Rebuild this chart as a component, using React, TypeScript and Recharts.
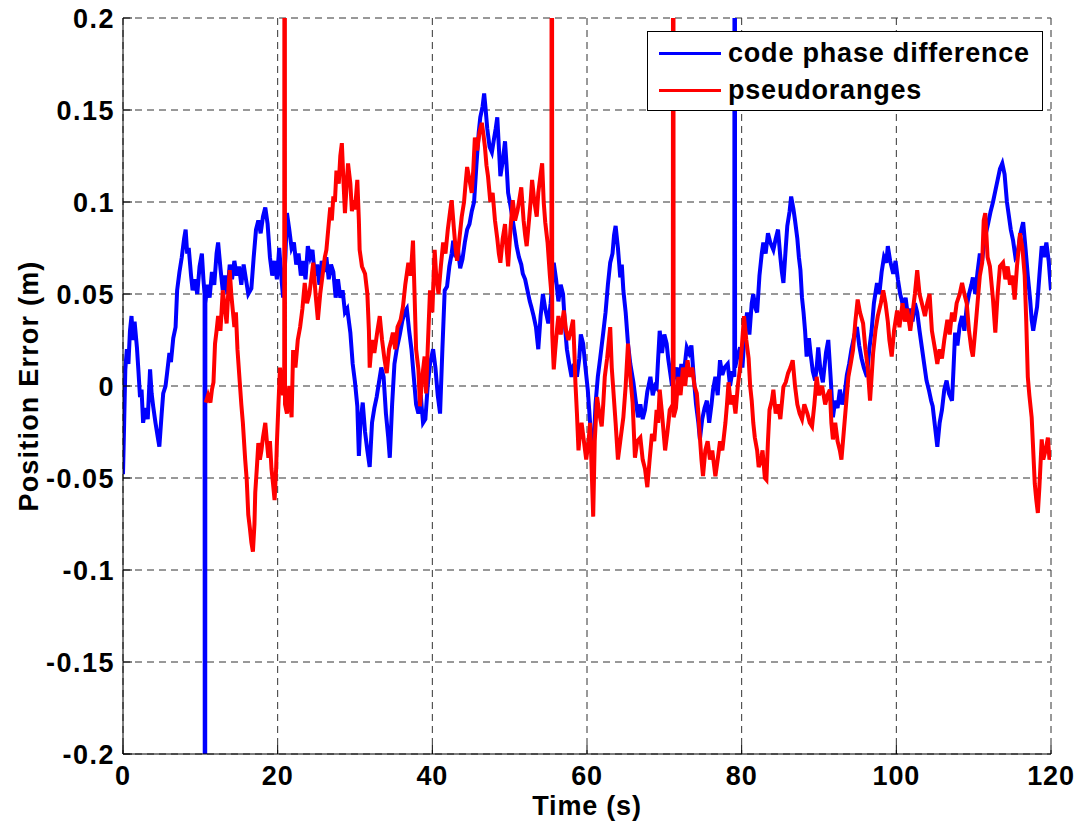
import React from 'react';
import { LineChart, Line, XAxis, YAxis, CartesianGrid, Legend } from 'recharts';

// [time (s), position error (m)]
const codePhaseDifference: [number, number][] = [
  [0.0, -0.048], [0.15, -0.02], [0.3, 0.009], [0.5, 0.02], [0.7, 0.012], [0.9, 0.03], [1.1, 0.038], [1.3, 0.025],
  [1.5, 0.035], [1.8, 0.021], [2.0, 0.008], [2.2, -0.006], [2.4, -0.002], [2.6, -0.02], [2.9, -0.012], [3.2, -0.018],
  [3.5, 0.009], [3.7, -0.004], [3.9, -0.011], [4.2, -0.02], [4.5, -0.028], [4.7, -0.033], [5.0, -0.015], [5.2, -0.004],
  [5.5, 0.0], [5.7, 0.007], [6.0, 0.018], [6.2, 0.013], [6.5, 0.026], [6.8, 0.032], [7.0, 0.052], [7.3, 0.062],
  [7.6, 0.07], [7.9, 0.08], [8.1, 0.085], [8.3, 0.072], [8.5, 0.075], [8.8, 0.06], [9.0, 0.052], [9.3, 0.058],
  [9.6, 0.05], [9.9, 0.065], [10.2, 0.072], [10.4, 0.058], [10.55, 0.05], [10.6, -0.6], [10.65, 0.045], [10.9, 0.055],
  [11.2, 0.048], [11.5, 0.062], [11.8, 0.055], [12.1, 0.072], [12.3, 0.078], [12.6, 0.064], [12.9, 0.052], [13.2, 0.06],
  [13.5, 0.05], [13.8, 0.066], [14.1, 0.058], [14.4, 0.068], [14.7, 0.06], [15.0, 0.065], [15.3, 0.055], [15.6, 0.066],
  [15.9, 0.058], [16.2, 0.05], [16.6, 0.053], [16.9, 0.07], [17.2, 0.085], [17.5, 0.09], [17.8, 0.083], [18.1, 0.092],
  [18.4, 0.097], [18.7, 0.088], [19.0, 0.07], [19.3, 0.06], [19.6, 0.068], [19.9, 0.058], [20.2, 0.075], [20.5, 0.058],
  [20.7, 0.048], [21.0, 0.07], [21.2, 0.094], [21.5, 0.085], [21.8, 0.075], [22.1, 0.078], [22.4, 0.066], [22.7, 0.072],
  [23.0, 0.06], [23.3, 0.068], [23.6, 0.058], [23.9, 0.076], [24.2, 0.07], [24.5, 0.074], [24.8, 0.06], [25.1, 0.066],
  [25.4, 0.055], [25.7, 0.068], [26.0, 0.062], [26.3, 0.07], [26.6, 0.058], [26.9, 0.066], [27.2, 0.062], [27.5, 0.048],
  [27.8, 0.058], [28.1, 0.048], [28.4, 0.052], [28.7, 0.04], [29.0, 0.042], [29.4, 0.029], [29.7, 0.012], [30.0, 0.002],
  [30.3, -0.011], [30.5, -0.038], [30.7, -0.02], [31.0, -0.009], [31.3, -0.025], [31.6, -0.035], [31.9, -0.044], [32.2, -0.02],
  [32.5, -0.012], [32.8, -0.006], [33.1, 0.002], [33.4, 0.01], [33.7, 0.005], [34.0, -0.015], [34.3, -0.028], [34.5, -0.039],
  [34.8, -0.01], [35.1, 0.012], [35.4, 0.02], [35.8, 0.028], [36.1, 0.035], [36.4, 0.04], [36.7, 0.042], [37.0, 0.03],
  [37.3, 0.02], [37.6, 0.005], [37.9, -0.01], [38.2, -0.015], [38.5, -0.005], [38.8, -0.02], [39.1, -0.018], [39.4, 0.0],
  [39.7, 0.012], [40.1, 0.02], [40.4, 0.01], [40.7, -0.005], [41.0, -0.015], [41.3, 0.02], [41.6, 0.052], [41.9, 0.054],
  [42.2, 0.065], [42.5, 0.072], [42.7, 0.079], [43.0, 0.07], [43.3, 0.075], [43.6, 0.064], [43.9, 0.069], [44.2, 0.078],
  [44.5, 0.085], [44.8, 0.088], [45.1, 0.095], [45.4, 0.1], [45.7, 0.12], [46.0, 0.138], [46.2, 0.146], [46.5, 0.152],
  [46.7, 0.159], [46.9, 0.15], [47.1, 0.14], [47.4, 0.13], [47.7, 0.127], [48.0, 0.135], [48.2, 0.14], [48.4, 0.146],
  [48.6, 0.13], [48.8, 0.114], [49.1, 0.122], [49.4, 0.133], [49.6, 0.12], [49.8, 0.105], [50.1, 0.098], [50.4, 0.09],
  [50.7, 0.082], [50.9, 0.076], [51.2, 0.07], [51.5, 0.066], [51.7, 0.061], [52.0, 0.058], [52.3, 0.052], [52.6, 0.046],
  [52.8, 0.043], [53.1, 0.038], [53.4, 0.032], [53.7, 0.02], [54.0, 0.038], [54.3, 0.05], [54.6, 0.042], [55.0, 0.034],
  [55.3, 0.045], [55.7, 0.067], [56.0, 0.058], [56.3, 0.046], [56.6, 0.055], [56.9, 0.05], [57.2, 0.03], [57.4, 0.02],
  [57.7, 0.012], [58.0, 0.005], [58.3, 0.012], [58.7, 0.005], [59.0, 0.015], [59.2, 0.028], [59.5, 0.023], [59.8, 0.01],
  [60.1, -0.002], [60.4, -0.02], [60.6, -0.035], [60.8, -0.039], [61.1, -0.01], [61.4, 0.005], [61.7, 0.015], [62.1, 0.029],
  [62.4, 0.04], [62.7, 0.055], [63.0, 0.067], [63.3, 0.072], [63.5, 0.082], [63.7, 0.087], [64.0, 0.075], [64.3, 0.059],
  [64.5, 0.066], [64.7, 0.052], [65.0, 0.04], [65.3, 0.023], [65.6, 0.012], [66.0, 0.002], [66.3, -0.008], [66.6, -0.017],
  [66.9, -0.01], [67.2, -0.018], [67.5, -0.013], [67.8, -0.003], [68.2, 0.005], [68.5, -0.005], [68.8, 0.0], [69.0, -0.001],
  [69.2, 0.015], [69.4, 0.03], [69.7, 0.018], [70.0, 0.028], [70.3, 0.023], [70.5, 0.015], [70.7, 0.009], [71.0, 0.0],
  [71.3, 0.005], [71.6, 0.01], [71.9, 0.0], [72.2, 0.012], [72.5, 0.006], [72.9, 0.021], [73.2, 0.018], [73.5, 0.022],
  [73.8, 0.005], [74.1, -0.01], [74.4, -0.02], [74.6, -0.029], [74.9, -0.018], [75.2, -0.012], [75.5, -0.008], [75.8, -0.02],
  [76.1, -0.01], [76.3, -0.002], [76.6, 0.005], [76.9, -0.005], [77.2, 0.014], [77.5, 0.006], [77.8, 0.01], [78.2, 0.012],
  [78.5, 0.0], [78.8, 0.008], [79.05, 0.005], [79.1, 0.6], [79.15, 0.01], [79.4, 0.015], [79.8, 0.021], [80.1, 0.01],
  [80.4, 0.03], [80.7, 0.04], [81.0, 0.028], [81.3, 0.045], [81.5, 0.05], [81.8, 0.042], [82.0, 0.04], [82.3, 0.06],
  [82.6, 0.072], [82.8, 0.078], [83.1, 0.072], [83.4, 0.083], [83.7, 0.078], [84.1, 0.074], [84.4, 0.08], [84.7, 0.085],
  [85.0, 0.07], [85.2, 0.062], [85.4, 0.056], [85.7, 0.075], [85.9, 0.087], [86.2, 0.095], [86.4, 0.103], [86.7, 0.096],
  [86.9, 0.09], [87.2, 0.08], [87.4, 0.07], [87.6, 0.063], [87.8, 0.048], [88.0, 0.04], [88.2, 0.03], [88.4, 0.016],
  [88.7, 0.026], [88.9, 0.018], [89.2, 0.008], [89.5, 0.003], [89.7, 0.01], [89.9, 0.021], [90.2, 0.008], [90.5, 0.002],
  [90.9, 0.018], [91.2, 0.025], [91.5, 0.005], [91.8, -0.017], [92.1, -0.008], [92.4, -0.012], [92.7, -0.002], [93.0, -0.01],
  [93.3, -0.005], [93.6, 0.006], [93.9, 0.012], [94.2, 0.02], [94.6, 0.028], [94.9, 0.032], [95.2, 0.022], [95.5, 0.015],
  [95.8, 0.01], [96.2, 0.005], [96.5, 0.02], [96.8, 0.03], [97.1, 0.045], [97.5, 0.056], [97.8, 0.05], [98.1, 0.062],
  [98.4, 0.07], [98.7, 0.067], [98.9, 0.076], [99.2, 0.068], [99.6, 0.061], [99.9, 0.068], [100.2, 0.058], [100.5, 0.05],
  [100.9, 0.043], [101.2, 0.048], [101.5, 0.038], [101.8, 0.042], [102.1, 0.035], [102.4, 0.045], [102.7, 0.04], [103.0, 0.03],
  [103.3, 0.021], [103.6, 0.012], [103.9, 0.003], [104.2, -0.002], [104.5, -0.008], [104.7, -0.011], [105.0, -0.022], [105.3, -0.033],
  [105.6, -0.02], [105.9, -0.013], [106.2, -0.002], [106.5, 0.003], [106.8, -0.004], [107.2, -0.008], [107.4, 0.01], [107.6, 0.029],
  [107.9, 0.022], [108.2, 0.033], [108.5, 0.038], [108.8, 0.03], [109.1, 0.043], [109.4, 0.05], [109.7, 0.055], [109.9, 0.059],
  [110.2, 0.05], [110.5, 0.062], [110.8, 0.072], [111.1, 0.068], [111.4, 0.08], [111.7, 0.085], [111.9, 0.089], [112.2, 0.095],
  [112.5, 0.1], [112.8, 0.106], [113.1, 0.112], [113.4, 0.118], [113.7, 0.121], [114.0, 0.115], [114.1, 0.11], [114.3, 0.1],
  [114.5, 0.094], [114.8, 0.085], [115.1, 0.079], [115.4, 0.07], [115.7, 0.072], [116.0, 0.082], [116.4, 0.089], [116.7, 0.075],
  [117.0, 0.06], [117.3, 0.047], [117.5, 0.036], [117.7, 0.03], [118.0, 0.038], [118.2, 0.043], [118.5, 0.06], [118.8, 0.076],
  [119.1, 0.07], [119.4, 0.078], [119.7, 0.068], [120.0, 0.052],
];

const pseudoranges: [number, number][] = [
  [10.7, -0.009], [11.0, -0.005], [11.3, -0.009], [11.5, -0.002], [11.7, 0.002], [11.9, 0.023], [12.1, 0.03], [12.3, 0.038],
  [12.6, 0.03], [12.9, 0.052], [13.1, 0.045], [13.4, 0.034], [13.6, 0.05], [13.8, 0.063], [14.0, 0.05], [14.2, 0.041],
  [14.4, 0.032], [14.6, 0.04], [14.8, 0.02], [15.1, 0.002], [15.3, -0.01], [15.5, -0.02], [15.8, -0.04], [16.0, -0.051],
  [16.2, -0.07], [16.4, -0.077], [16.6, -0.085], [16.8, -0.09], [17.0, -0.075], [17.1, -0.058], [17.3, -0.045], [17.5, -0.031],
  [17.7, -0.04], [17.9, -0.035], [18.1, -0.028], [18.4, -0.02], [18.6, -0.03], [18.8, -0.039], [19.0, -0.03], [19.2, -0.045],
  [19.4, -0.053], [19.6, -0.062], [19.8, -0.045], [19.9, -0.031], [20.1, -0.01], [20.3, 0.01], [20.5, 0.0], [20.7, -0.005],
  [20.85, 0.005], [20.9, 0.6], [20.95, -0.01], [21.2, -0.015], [21.5, 0.0], [21.8, -0.017], [22.0, 0.0196], [22.3, 0.01],
  [22.6, 0.025], [22.9, 0.032], [23.2, 0.042], [23.5, 0.056], [23.8, 0.045], [24.1, 0.05], [24.4, 0.06], [24.6, 0.067],
  [24.9, 0.05], [25.2, 0.036], [25.5, 0.05], [25.8, 0.06], [26.1, 0.07], [26.3, 0.074], [26.6, 0.088], [26.8, 0.097],
  [27.0, 0.09], [27.2, 0.103], [27.4, 0.1], [27.6, 0.117], [27.9, 0.11], [28.1, 0.125], [28.3, 0.132], [28.5, 0.112],
  [28.7, 0.094], [28.9, 0.108], [29.1, 0.121], [29.4, 0.11], [29.6, 0.095], [29.8, 0.101], [30.0, 0.096], [30.3, 0.112],
  [30.5, 0.09], [30.6, 0.074], [30.9, 0.065], [31.3, 0.061], [31.6, 0.05], [31.8, 0.03], [31.9, 0.01], [32.2, 0.025],
  [32.5, 0.018], [32.9, 0.03], [33.2, 0.038], [33.5, 0.025], [33.8, 0.015], [34.1, 0.007], [34.4, 0.02], [34.7, 0.025],
  [34.9, 0.029], [35.2, 0.02], [35.5, 0.032], [35.9, 0.036], [36.2, 0.043], [36.5, 0.055], [36.9, 0.067], [37.2, 0.06],
  [37.5, 0.079], [37.7, 0.05], [37.9, 0.02], [38.2, 0.009], [38.4, -0.011], [38.7, 0.005], [39.0, 0.016], [39.2, -0.004],
  [39.4, 0.02], [39.7, 0.052], [40.0, 0.04], [40.3, 0.074], [40.5, 0.06], [40.8, 0.05], [41.1, 0.065], [41.4, 0.078],
  [41.7, 0.072], [42.0, 0.085], [42.3, 0.095], [42.5, 0.101], [42.8, 0.085], [43.0, 0.075], [43.2, 0.068], [43.5, 0.08],
  [43.8, 0.092], [44.1, 0.1], [44.3, 0.11], [44.5, 0.119], [44.8, 0.112], [45.1, 0.105], [45.3, 0.118], [45.5, 0.135],
  [45.8, 0.128], [46.1, 0.138], [46.4, 0.143], [46.6, 0.137], [46.8, 0.13], [47.0, 0.12], [47.2, 0.114], [47.5, 0.1],
  [47.8, 0.105], [48.1, 0.09], [48.4, 0.08], [48.6, 0.072], [48.8, 0.067], [49.1, 0.08], [49.4, 0.088], [49.6, 0.075],
  [49.8, 0.065], [50.1, 0.085], [50.4, 0.101], [50.7, 0.09], [51.0, 0.095], [51.2, 0.1], [51.5, 0.108], [51.8, 0.09],
  [52.0, 0.082], [52.2, 0.076], [52.5, 0.09], [52.7, 0.1], [52.9, 0.112], [53.2, 0.1], [53.5, 0.092], [53.7, 0.105],
  [54.0, 0.115], [54.2, 0.121], [54.4, 0.1], [54.6, 0.089], [54.9, 0.078], [55.2, 0.06], [55.4, 0.05], [55.45, 0.6],
  [55.5, 0.029], [55.7, 0.009], [55.9, 0.02], [56.1, 0.03], [56.3, 0.038], [56.6, 0.028], [57.0, 0.041], [57.3, 0.03],
  [57.6, 0.025], [57.9, 0.03], [58.2, 0.036], [58.4, 0.015], [58.5, 0.002], [58.7, -0.015], [58.9, -0.035], [59.1, -0.025],
  [59.3, -0.02], [59.6, -0.03], [59.9, -0.04], [60.2, -0.03], [60.4, -0.02], [60.6, -0.045], [60.8, -0.071], [61.0, -0.03],
  [61.3, -0.006], [61.6, -0.015], [61.9, -0.022], [62.1, -0.01], [62.3, 0.005], [62.6, 0.015], [63.0, 0.032], [63.2, 0.01],
  [63.4, -0.002], [63.7, -0.02], [64.0, -0.04], [64.3, -0.03], [64.7, -0.017], [65.0, 0.0], [65.3, 0.023], [65.6, 0.005],
  [65.9, -0.009], [66.2, -0.039], [66.5, -0.03], [66.9, -0.028], [67.2, -0.04], [67.5, -0.045], [67.8, -0.055], [68.1, -0.04],
  [68.4, -0.026], [68.7, -0.03], [69.0, -0.013], [69.2, -0.02], [69.4, -0.002], [69.7, -0.015], [70.1, -0.035], [70.4, -0.025],
  [70.7, -0.013], [71.1, -0.01], [71.15, 0.6], [71.2, -0.017], [71.5, -0.012], [71.8, 0.005], [72.1, -0.005], [72.4, 0.01],
  [72.7, 0.0], [73.0, 0.014], [73.3, 0.005], [73.6, 0.01], [73.9, 0.0], [74.2, -0.004], [74.4, -0.015], [74.6, -0.028],
  [74.8, -0.04], [75.0, -0.049], [75.3, -0.035], [75.6, -0.03], [75.9, -0.04], [76.2, -0.035], [76.6, -0.049], [76.9, -0.04],
  [77.2, -0.03], [77.5, -0.035], [77.9, -0.02], [78.1, -0.01], [78.3, 0.002], [78.6, -0.01], [78.9, -0.005], [79.2, -0.015],
  [79.5, 0.0], [79.8, 0.01], [80.0, 0.02], [80.3, 0.038], [80.6, 0.025], [80.9, 0.015], [81.1, 0.0], [81.3, -0.008],
  [81.5, -0.02], [81.7, -0.028], [82.0, -0.035], [82.2, -0.044], [82.4, -0.042], [82.7, -0.035], [83.0, -0.05], [83.2, -0.051],
  [83.4, -0.03], [83.6, -0.013], [83.9, -0.008], [84.1, -0.002], [84.4, -0.015], [84.7, -0.01], [85.0, -0.018], [85.4, -0.0005],
  [85.7, 0.002], [86.0, 0.007], [86.3, 0.01], [86.6, 0.014], [86.9, 0.0], [87.2, -0.01], [87.5, -0.015], [87.8, -0.018],
  [88.1, -0.01], [88.5, -0.015], [88.8, -0.02], [89.1, -0.022], [89.4, -0.01], [89.7, 0.005], [90.0, -0.005], [90.4, 0.0],
  [90.8, -0.01], [91.1, -0.005], [91.4, -0.002], [91.6, -0.02], [91.8, -0.029], [92.1, -0.02], [92.4, -0.03], [92.7, -0.035],
  [92.9, -0.04], [93.2, -0.025], [93.5, -0.01], [93.8, 0.005], [94.1, 0.012], [94.4, 0.0196], [94.7, 0.035], [95.0, 0.047],
  [95.3, 0.04], [95.7, 0.034], [96.0, 0.02], [96.3, 0.01], [96.6, -0.008], [96.8, 0.005], [97.0, 0.018], [97.3, 0.03],
  [97.6, 0.038], [98.0, 0.045], [98.3, 0.052], [98.6, 0.045], [98.9, 0.035], [99.1, 0.025], [99.4, 0.016], [99.7, 0.03],
  [100.1, 0.041], [100.4, 0.032], [100.8, 0.045], [101.1, 0.035], [101.4, 0.042], [101.8, 0.03], [102.1, 0.04], [102.4, 0.05],
  [102.7, 0.063], [103.0, 0.05], [103.3, 0.045], [103.7, 0.038], [104.0, 0.045], [104.3, 0.05], [104.6, 0.03], [105.0, 0.02],
  [105.3, 0.012], [105.6, 0.02], [105.9, 0.015], [106.2, 0.025], [106.6, 0.036], [106.9, 0.028], [107.2, 0.04], [107.5, 0.035],
  [107.8, 0.045], [108.2, 0.05], [108.5, 0.056], [108.8, 0.05], [109.1, 0.045], [109.4, 0.03], [109.7, 0.02], [109.9, 0.016],
  [110.2, 0.03], [110.5, 0.045], [110.8, 0.06], [111.1, 0.067], [111.3, 0.09], [111.5, 0.094], [111.8, 0.07], [112.1, 0.065],
  [112.5, 0.047], [112.8, 0.029], [113.1, 0.05], [113.4, 0.065], [113.8, 0.067], [114.1, 0.058], [114.4, 0.065], [114.7, 0.055],
  [115.0, 0.06], [115.3, 0.047], [115.6, 0.065], [116.0, 0.083], [116.3, 0.075], [116.6, 0.06], [116.8, 0.035], [117.0, 0.005],
  [117.2, -0.005], [117.5, -0.017], [117.7, -0.035], [117.9, -0.053], [118.1, -0.062], [118.3, -0.069], [118.5, -0.055], [118.8, -0.029],
  [119.0, -0.04], [119.3, -0.035], [119.6, -0.028], [119.8, -0.04], [120.0, -0.035],
];

const xTicks = [0, 20, 40, 60, 80, 100, 120];
const yTicks = [-0.2, -0.15, -0.1, -0.05, 0, 0.05, 0.1, 0.15, 0.2];
const yTickLabels = ['-0.2', '-0.15', '-0.1', '-0.05', '0', '0.05', '0.1', '0.15', '0.2'];
const seriesNames = ['code phase difference', 'pseudoranges'];
const seriesColors = ['#0000ff', '#ff0000'];

const FONT = '"Liberation Sans", Arial, Helvetica, sans-serif';

const toRows = (pairs: [number, number][]) => pairs.map(([t, v]) => ({ t, v }));

const formatY = (v: number) => {
  const i = yTicks.findIndex((y) => Math.abs(y - v) < 1e-9);
  return i >= 0 ? yTickLabels[i] : String(v);
};

const renderLegend = () => (
  <div
    style={{
      width: 396,
      height: 80,
      boxSizing: 'border-box',
      border: '1.5px solid #000',
      background: '#fff',
      position: 'relative',
      fontFamily: FONT,
      fontWeight: 'bold',
      fontSize: 27,
      color: '#000',
    }}
  >
    {seriesNames.map((name, i) => (
      <div
        key={name}
        style={{ position: 'absolute', left: 0, top: i === 0 ? 4 : 41, height: 34, display: 'flex', alignItems: 'center', whiteSpace: 'nowrap' }}
      >
        <div style={{ marginLeft: 11, width: 62, height: 3, background: seriesColors[i] }} />
        <span style={{ marginLeft: 7, letterSpacing: 0.8 }}>{name}</span>
      </div>
    ))}
  </div>
);

export default function App() {
  return (
    <div style={{ position: 'absolute', left: 0, top: 0, width: 1081, height: 826, background: '#fff' }}>
      <LineChart width={1081} height={826} margin={{ top: 18, right: 30, bottom: 0, left: 0 }}>
        <CartesianGrid stroke="#333" strokeDasharray="7 5" strokeWidth={1} />
        <XAxis
          dataKey="t"
          type="number"
          domain={[0, 120]}
          ticks={xTicks}
          allowDataOverflow
          height={72}
          tickSize={-9}
          tickMargin={21}
          axisLine={{ stroke: '#000', strokeWidth: 1 }}
          tickLine={{ stroke: '#000', strokeWidth: 1 }}
          tick={{ fill: '#000', fontSize: 27, fontWeight: 'bold', fontFamily: FONT, letterSpacing: 0.8 }}
          label={{ value: 'Time (s)', position: 'insideBottom', offset: 11, fill: '#000', fontSize: 27, fontWeight: 'bold', fontFamily: FONT, letterSpacing: 0.8 }}
        />
        <YAxis
          type="number"
          domain={[-0.2, 0.2]}
          ticks={yTicks}
          allowDataOverflow
          width={123}
          tickSize={-9}
          tickMargin={17}
          tickFormatter={formatY}
          axisLine={{ stroke: '#000', strokeWidth: 1 }}
          tickLine={{ stroke: '#000', strokeWidth: 1 }}
          tick={{ fill: '#000', fontSize: 27, fontWeight: 'bold', fontFamily: FONT, letterSpacing: 1.5 }}
          label={{ value: 'Position Error (m)', angle: -90, position: 'insideLeft', offset: 28, fill: '#000', fontSize: 27, fontWeight: 'bold', fontFamily: FONT, letterSpacing: 1.2, style: { textAnchor: 'middle' } }}
        />
        <Legend
          layout="vertical"
          align="center"
          verticalAlign="middle"
          wrapperStyle={{ left: 647, top: 31, width: 396, height: 80 }}
          content={renderLegend}
        />
        <Line
          data={toRows(codePhaseDifference)}
          dataKey="v"
          name={seriesNames[0]}
          type="linear"
          stroke={seriesColors[0]}
          strokeWidth={4}
          dot={false}
          isAnimationActive={false}
        />
        <Line
          data={toRows(pseudoranges)}
          dataKey="v"
          name={seriesNames[1]}
          type="linear"
          stroke={seriesColors[1]}
          strokeWidth={4}
          dot={false}
          isAnimationActive={false}
        />
      </LineChart>
    </div>
  );
}
